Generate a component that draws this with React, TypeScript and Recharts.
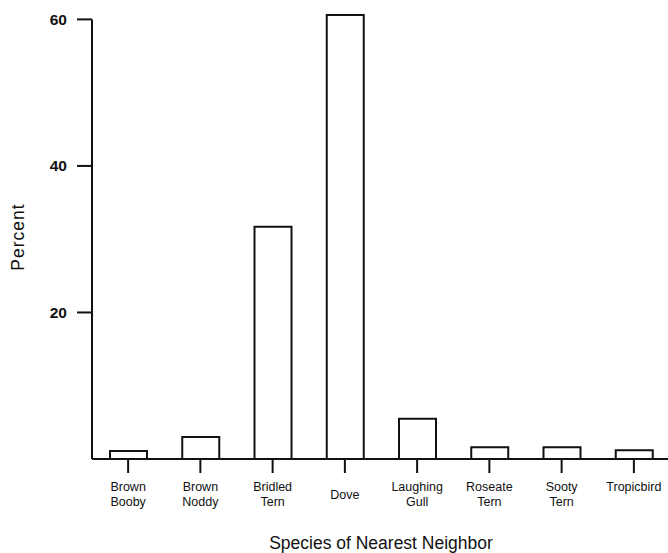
import React from "react";
import {
  BarChart,
  Bar,
  XAxis,
  YAxis,
  ReferenceLine,
} from "recharts";

// species of nearest neighbour (category axis)
const species = [
  "Brown Booby",
  "Brown Noddy",
  "Bridled Tern",
  "Dove",
  "Laughing Gull",
  "Roseate Tern",
  "Sooty Tern",
  "Tropicbird",
];

// tick labels, "\n" splits the two lines
const tickLabels = [
  "Brown\nBooby",
  "Brown\nNoddy",
  "Bridled\nTern",
  "Dove",
  "Laughing\nGull",
  "Roseate\nTern",
  "Sooty\nTern",
  "Tropicbird\n",
];

// percent of nests
const percent = [1.1, 3.0, 31.7, 60.6, 5.5, 1.6, 1.6, 1.2];

const yTicks = [20, 40, 60];

const data = species.map((name, i) => ({
  name,
  label: tickLabels[i],
  value: percent[i],
}));

const FONT = "'Liberation Sans', Arial, Helvetica, sans-serif";

function SpeciesTick(props: any) {
  const { x, y, index } = props;
  const lines = tickLabels[index].split("\n");
  // single-line labels sit between the two rows
  const rows = lines.length === 1 ? [{ t: lines[0], dy: 23.5 }] : lines.map((t, k) => ({ t, dy: 16 + k * 15 }));
  return (
    <g>
      {rows.map((r, k) => (
        <text
          key={k}
          x={x}
          y={y + r.dy}
          textAnchor="middle"
          fontFamily={FONT}
          fontSize={12.5}
          fill="#111"
        >
          {r.t}
        </text>
      ))}
    </g>
  );
}

export default function App() {
  return (
    <div style={{ position: "absolute", left: 0, top: 0, width: 668, height: 553, overflow: "hidden", background: "#fff" }}>
      <BarChart
        width={680}
        height={553}
        data={data}
        margin={{ top: 15, right: 10, bottom: 0, left: 0 }}
        barSize={37}
      >
        <XAxis
          dataKey="name"
          height={94}
          axisLine={{ stroke: "#111", strokeWidth: 2 }}
          tickLine={{ stroke: "#111", strokeWidth: 2 }}
          tickSize={14}
          tick={<SpeciesTick />}
          interval={0}
          label={{
            content: ({ viewBox }: any) => (
              <text
                x={viewBox.x + viewBox.width / 2}
                y={549}
                textAnchor="middle"
                fontFamily={FONT}
                fontSize={17.5}
                fill="#111"
              >
                Species of Nearest Neighbor
              </text>
            ),
          }}
        />
        <YAxis
          type="number"
          domain={[0, "dataMax"]}
          ticks={yTicks}
          width={92}
          axisLine={false}
          tickLine={{ stroke: "#111", strokeWidth: 2 }}
          tickSize={15}
          tickMargin={10}
          tick={{ fontFamily: FONT, fontSize: 15.5, fontWeight: "bold", fill: "#111" }}
          label={{
            content: ({ viewBox }: any) => {
              const cx = viewBox.x + 18;
              const cy = viewBox.y + viewBox.height / 2;
              return (
                <text
                  x={cx}
                  y={cy}
                  transform={`rotate(-90, ${cx}, ${cy})`}
                  textAnchor="middle"
                  dominantBaseline="central"
                  fontFamily={FONT}
                  fontSize={17.5}
                  letterSpacing={1}
                  fill="#111"
                >
                  Percent
                </text>
              );
            },
          }}
        />
        {/* y axis line only runs up to the 60 tick */}
        <ReferenceLine
          segment={[
            { x: species[0], y: 0 },
            { x: species[0], y: 60 },
          ]}
          position="start"
          stroke="#111"
          strokeWidth={2}
        />
        <Bar
          dataKey="value"
          fill="#fff"
          stroke="#111"
          strokeWidth={2}
          isAnimationActive={false}
        />
      </BarChart>
    </div>
  );
}
